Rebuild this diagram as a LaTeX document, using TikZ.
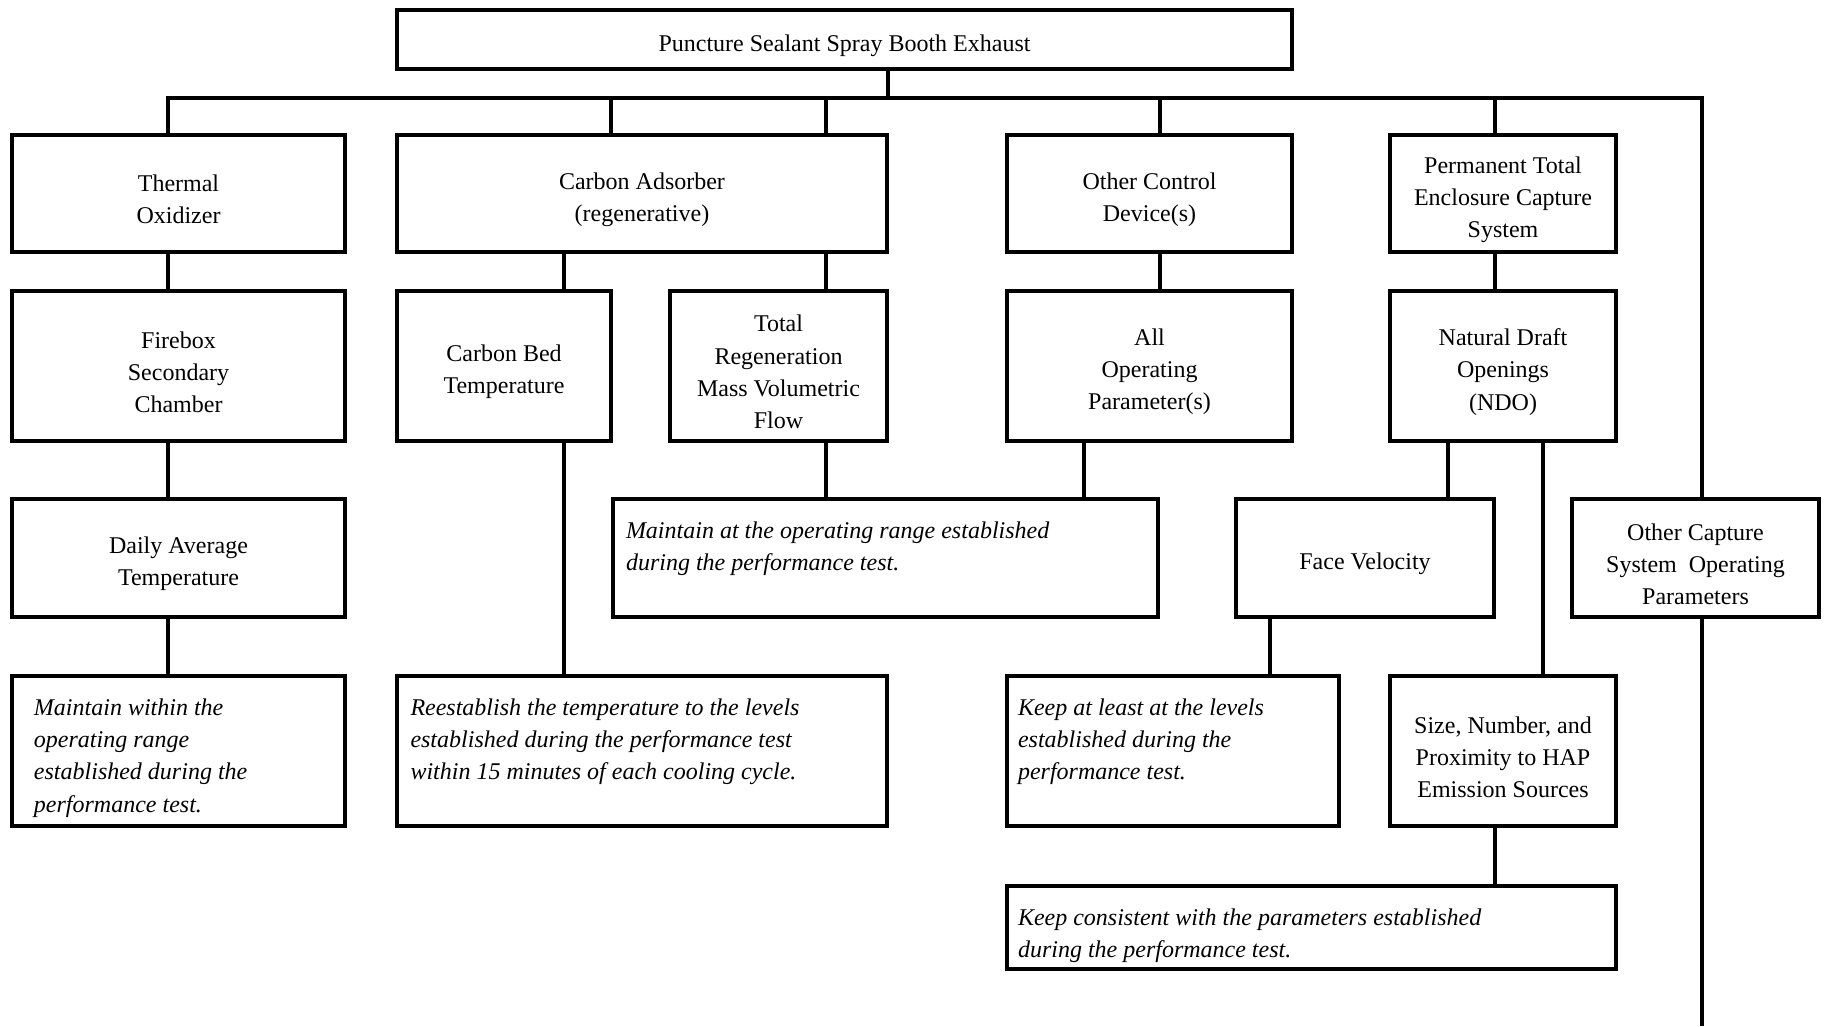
\documentclass[tikz,border=0pt]{standalone}
\usepackage{fontspec}
\setmainfont{Liberation Serif}
\usetikzlibrary{positioning}
\newcommand{\notetext}[3]{\parbox[c][#2pt][t]{#1pt}{\raggedright\rule{0pt}{24pt}#3}}

\begin{document}
\begin{tikzpicture}[x=1pt,y=-1pt,
  boxtext/.style={inner sep=0pt,align=center,font=\fontsize{24}{32.2}\selectfont,yshift=-6pt},
  box/.style={draw,line width=4pt,inner sep=0pt,label={[boxtext]center:{#1}}},
  note/.style={draw,line width=4pt,inner sep=0pt,font=\fontsize{24}{32.2}\selectfont\itshape},
  link/.style={line width=3.4pt}]
  \useasboundingbox (0,0) rectangle (1826,1026);
  % top
  \node[box={Puncture Sealant Spray Booth Exhaust},minimum width=895,minimum height=59] (exhaust) at (844.5,39.5) {};
  % first row
  \node[box={Thermal\\Oxidizer},minimum width=333,minimum height=117] (thermal) at (178.5,193.5) {};
  \node[box={Carbon Adsorber\\(regenerative)},minimum width=490,minimum height=117] (carbon) at (642,193.5) {};
  \node[box={Other Control\\Device(s)},minimum width=285,minimum height=117] (otherctl) at (1149.5,193.5) {};
  \node[box={Permanent Total\\Enclosure Capture\\System},minimum width=226,minimum height=117] (ptec) at (1503,193.5) {};
  % second row
  \node[box={Firebox\\Secondary\\Chamber},minimum width=333,minimum height=150] (firebox) at (178.5,366) {};
  \node[box={Carbon Bed\\Temperature},minimum width=214,minimum height=150] (cbed) at (504,366) {};
  \node[box={Total\\Regeneration\\Mass Volumetric\\Flow},minimum width=217,minimum height=150] (regen) at (778.5,366) {};
  \node[box={All\\Operating\\Parameter(s)},minimum width=285,minimum height=150] (allop) at (1149.5,366) {};
  \node[box={Natural Draft\\Openings\\(NDO)},minimum width=226,minimum height=150] (ndo) at (1503,366) {};
  % third row
  \node[box={Daily Average\\Temperature},minimum width=333,minimum height=117.5] (daily) at (178.5,558) {};
  \node[note,minimum width=545,minimum height=117.5] (maintat) at (885.5,558)
    {\notetext{519}{86.5}{Maintain at the operating range established\\during the performance test.}};
  \node[box={Face Velocity},minimum width=258,minimum height=117.5] (face) at (1365,558) {};
  \node[box={Other Capture\\System\ \ Operating\\Parameters},minimum width=247,minimum height=117.5] (othercap) at (1695.5,558) {};
  % fourth row
  \node[note,minimum width=333,minimum height=150] (mwithin) at (178.5,751)
    {\notetext{289}{119}{Maintain within the\\operating range\\established during the\\performance test.}};
  \node[note,minimum width=490,minimum height=150] (reest) at (642,751)
    {\notetext{463}{119}{Reestablish the temperature to the levels\\established during the performance test\\within 15 minutes of each cooling cycle.}};
  \node[note,minimum width=332,minimum height=150] (keepleast) at (1173,751)
    {\notetext{310}{119}{Keep at least at the levels\\established during the\\performance test.}};
  \node[box={Size, Number, and\\Proximity to HAP\\Emission Sources},minimum width=226,minimum height=150] (size) at (1503,751) {};
  % last row
  \node[note,minimum width=609,minimum height=83] (keepcons) at (1311.5,927)
    {\notetext{587}{52}{Keep consistent with the parameters established\\during the performance test.}};

  % bus
  \coordinate (busL) at (168,98);
  \coordinate (busT) at (888,98);
  \coordinate (busR) at (1702,98);
  \coordinate (bottom) at (1702,1026);
  \draw[link] (exhaust.south -| busT) -- (busT);
  \draw[link] (busL |- thermal.north) -- (busL) -- (busR) -- (busR |- othercap.north);
  \foreach \x/\n in {611/carbon,826/carbon,1160/otherctl,1495/ptec}
    \draw[link] (\x,98) -- (\n.north -| \x,0);
  % links between rows
  \foreach \x/\a/\b in {168/thermal/firebox,168/firebox/daily,168/daily/mwithin,
      564/carbon/cbed,826/carbon/regen,564/cbed/reest,826/regen/maintat,
      1160/otherctl/allop,1084/allop/maintat,1495/ptec/ndo,1448/ndo/face,
      1543/ndo/size,1270/face/keepleast,1495/size/keepcons}
    \draw[link] (\a.south -| \x,0) -- (\b.north -| \x,0);
  \draw[link] (othercap.south -| bottom) -- (bottom);
\end{tikzpicture}
\end{document}
